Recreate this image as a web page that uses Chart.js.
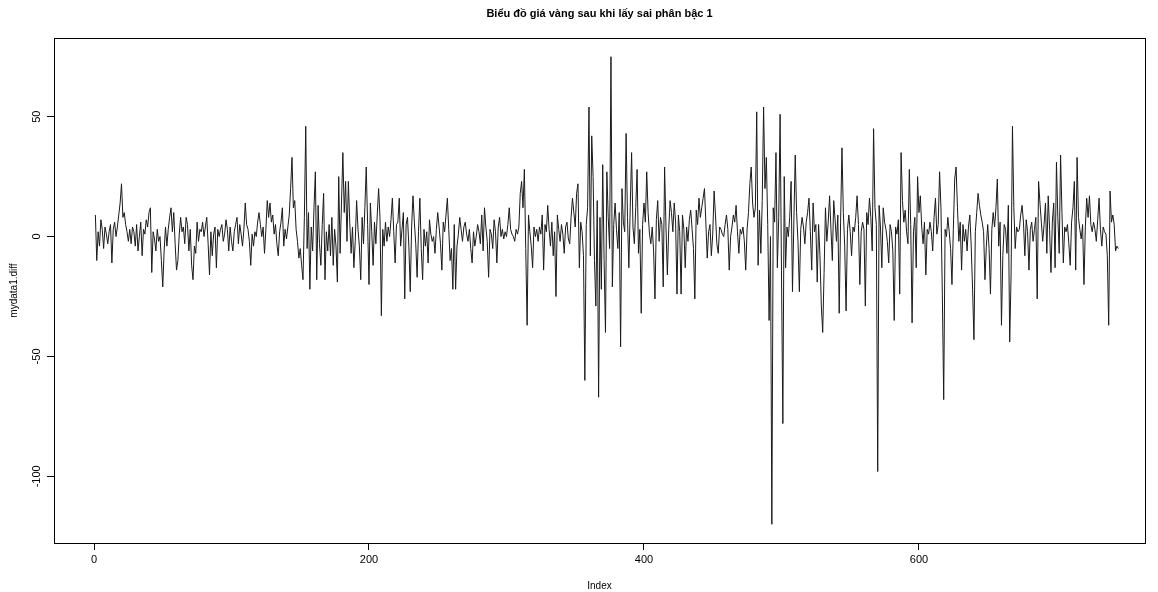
<!DOCTYPE html>
<html><head><meta charset="utf-8">
<script src="https://cdn.jsdelivr.net/npm/chart.js@4.4.0/dist/chart.umd.min.js"></script>
<style>html,body{margin:0;padding:0;background:#fff;overflow:hidden}#wrap{width:1158px;height:592px;position:relative}</style>
</head><body><div id="wrap"><canvas id="c" width="1158" height="592"></canvas></div>
<script>
const chartTitle = "Biểu đồ giá vàng sau khi lấy sai phân bậc 1";
const xAxisLabel = "Index";
const yAxisLabel = "mydata1.diff";
const xTickValues = [0, 200, 400, 600];
const yTickValues = [-100, -50, 0, 50];
const diffValues = [
9,-10,2,-4,7,3,-5,4,1,-3,
2,5,-11,3,6,0,4,9,14,22,
8,10,5,2,-2,3,-3,4,2,-4,
5,-6,0,6,-8,3,1,7,4,10,
12,-15,2,-1,-6,3,-2,0,-10,-21,
-6,4,-4,3,8,12,2,10,-3,-14,
-10,1,8,2,4,-3,8,5,-6,3,
-12,-18,-4,-7,6,-2,3,2,6,0,
4,8,-3,-16,2,-8,1,4,-13,3,
0,3,5,-2,1,7,3,-6,4,-2,
-6,2,5,8,-3,5,1,-4,3,14,
5,3,-2,-12,1,-4,2,0,6,10,
5,0,4,-7,3,15,8,14,6,9,
1,5,-3,-8,2,6,12,-4,3,-1,
4,9,20,33,12,15,3,-2,-9,-5,
-12,-18,8,46,-5,10,-22,4,-6,12,
27,-18,13,-3,-12,5,18,-18,2,-6,
5,-8,8,-12,3,-4,-19,25,-7,14,
35,10,23,-2,23,6,-7,4,-13,-2,
15,3,-4,-18,8,-3,12,29,5,-20,
14,2,-12,6,-3,9,20,8,-33,3,
-4,6,-2,4,0,7,16,2,-11,5,
6,16,-4,3,10,-26,5,8,-4,-23,
4,17,6,-3,-17,2,16,-5,-18,3,
-4,2,-11,7,1,-2,0,-7,3,10,
4,-3,-14,6,2,9,16,3,-10,-5,
-22,5,-22,-4,1,8,3,-2,4,6,
1,-2,3,-5,-11,2,-4,0,5,2,
-3,9,-6,12,4,-2,-17,3,1,-5,
7,2,-11,4,8,0,3,-1,2,0,
5,12,3,1,0,-2,3,1,4,18,
23,12,28,-5,-37,9,2,-4,-13,4,
0,3,-2,4,1,9,-14,5,2,13,
3,-4,6,-8,2,-25,9,3,-2,5,
1,-7,4,6,-1,-3,8,16,10,4,
18,22,-13,6,2,-8,-60,5,12,54,
-8,42,25,-10,-29,15,-67,8,-22,30,
-10,-40,27,8,-5,75,-21,5,14,3,
-5,10,-46,20,6,2,43,8,-13,12,
35,4,-3,12,28,-7,3,-32,5,14,
6,27,10,1,-3,4,-6,-26,7,15,
-2,8,5,-21,29,4,-16,3,15,10,
2,14,6,-24,9,2,-24,9,3,-13,
4,-2,7,11,3,-5,-26,11,5,16,
8,12,16,20,6,-9,2,5,-8,1,
19,9,-3,-7,4,3,1,0,5,9,
3,-14,0,4,9,6,13,2,-7,3,
1,4,-2,-14,3,10,22,29,14,8,
12,52,-12,11,-7,15,54,20,33,5,
-35,0,-120,12,6,35,-13,8,51,-14,
-78,25,-13,4,0,8,23,-23,6,34,
10,-2,-23,3,8,4,-3,6,10,16,
2,-14,14,2,5,-19,5,-8,-29,-40,
-15,12,-2,6,17,3,-10,15,7,-2,
9,-32,6,37,10,-4,-31,3,9,2,
-8,4,2,8,17,5,-20,2,6,3,
-29,10,5,16,8,-6,45,12,5,-98,
13,4,-13,12,6,3,-2,-11,5,2,
-6,-35,4,1,7,-24,35,15,6,11,
2,-3,28,5,-36,2,8,-13,25,10,
17,4,-3,6,-16,3,1,6,2,-6,
8,16,1,5,27,12,-24,-68,3,0,
8,2,-5,-20,3,24,29,12,-2,6,
-14,5,-2,3,-6,4,9,-4,-22,-43,
2,10,18,13,9,6,2,-18,-4,5,
-5,-24,3,10,4,12,24,-4,6,-37,
-8,5,3,-7,13,-44,-16,46,12,-5,
4,2,3,9,13,6,-8,7,2,-14,
3,6,-2,3,8,-26,23,14,6,-2,
5,14,-7,17,3,-15,6,14,-13,31,
8,-7,34,10,-11,4,2,5,-3,-12,
6,12,23,-14,33,8,3,-1,5,-20,
4,16,8,17,5,2,6,3,-2,7,
16,3,-4,4,2,1,-8,-37,19,6,
9,5,-6,-4,-5
];
const indexValues = diffValues.map((v, i) => i + 1);

const FONT = "'Liberation Sans', Arial, Helvetica, sans-serif";

const rDecor = {
  id: 'rDecor',
  afterDraw(chart) {
    const ctx = chart.ctx;
    const a = chart.chartArea;
    const ys = chart.scales.y;
    ctx.save();
    ctx.strokeStyle = '#000';
    ctx.lineWidth = 1;
    ctx.strokeRect(Math.round(a.left) + 0.5, Math.round(a.top) + 0.5,
                   Math.round(a.right - a.left), Math.round(a.bottom - a.top));
    ctx.fillStyle = '#000';
    // title
    ctx.font = "bold 11px " + FONT;
    ctx.textAlign = 'center';
    ctx.textBaseline = 'middle';
    ctx.fillText(chartTitle, (a.left + a.right) / 2, 14);
    // x label
    ctx.font = "10px " + FONT;
    ctx.fillText(xAxisLabel, (a.left + a.right) / 2, 586);
    // y label
    ctx.save();
    ctx.translate(14, (a.top + a.bottom) / 2);
    ctx.rotate(-Math.PI / 2);
    ctx.fillText(yAxisLabel, 0, 0);
    ctx.restore();
    // y tick labels (rotated, R style)
    ctx.font = "11px " + FONT;
    yTickValues.forEach(v => {
      const py = ys.getPixelForValue(v);
      ctx.save();
      ctx.translate(37, py);
      ctx.rotate(-Math.PI / 2);
      ctx.fillText(String(v), 0, 0);
      ctx.restore();
    });
    ctx.restore();
  }
};

new Chart(document.getElementById('c'), {
  type: 'line',
  data: {
    datasets: [{
      data: indexValues.map((x, i) => ({ x: x, y: diffValues[i] })),
      borderColor: '#1a1a1a',
      borderWidth: 1,
      pointRadius: 0,
      tension: 0,
      fill: false
    }]
  },
  options: {
    responsive: false,
    animation: false,
    devicePixelRatio: 1,
    layout: { padding: { left: 0, top: 38, right: 13, bottom: 0 } },
    plugins: { legend: { display: false }, title: { display: false }, tooltip: { enabled: false } },
    scales: {
      x: {
        type: 'linear',
        min: -29.1,
        max: 764.4,
        afterBuildTicks: s => { s.ticks = xTickValues.map(v => ({ value: v })); },
        afterFit: s => { s.height = 49; },
        ticks: { color: '#000', font: { family: FONT, size: 11 }, padding: 3, maxRotation: 0, autoSkip: false },
        grid: { drawOnChartArea: false, drawTicks: true, tickLength: 7, color: '#000', lineWidth: 1 },
        border: { display: true, color: '#000' }
      },
      y: {
        type: 'linear',
        min: -127.8,
        max: 82.8,
        afterBuildTicks: s => { s.ticks = yTickValues.map(v => ({ value: v })); },
        afterFit: s => { s.width = 54; },
        ticks: { color: 'rgba(0,0,0,0)', font: { family: FONT, size: 11 } },
        grid: { drawOnChartArea: false, drawTicks: true, tickLength: 7, color: '#000', lineWidth: 1 },
        border: { display: true, color: '#000' }
      }
    }
  },
  plugins: [rDecor]
});
</script>
</body></html>
